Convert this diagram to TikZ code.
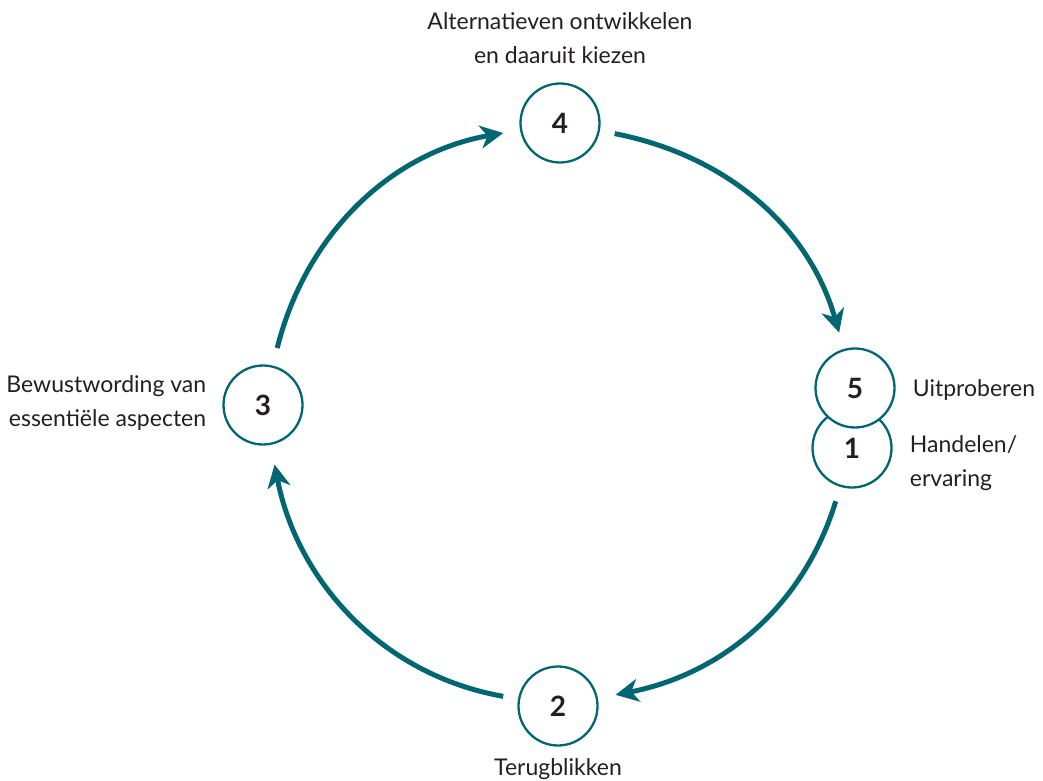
\documentclass[tikz,border=0pt]{standalone}
\usepackage{fontspec}
\setmainfont{Lato}
\usepackage{tikz}
\usetikzlibrary{arrows.meta, positioning}
\definecolor{cyclecol}{RGB}{0,103,114}
\definecolor{numcol}{RGB}{35,31,32}

\begin{document}
\begin{tikzpicture}[x=1pt, y=1pt]

\tikzset{phase/.style = {shape=circle, draw=cyclecol, line width=2.3pt, fill=white,
  minimum size=79pt, inner sep=0pt, font=\fontsize{28}{32}\selectfont\bfseries, text=numcol}}
\tikzset{lbl/.style = {font=\fontsize{23}{34}\selectfont, text=numcol, inner sep=0pt}}
\tikzset{flow/.style = {draw=cyclecol, line width=5pt, -{Stealth[length=23pt, width=23pt, inset=7pt]}}}

\useasboundingbox (0,0) rectangle (1043,780);

% phases
\node[phase] (n4) at (560,657) {4};
\node[phase] (n1) at (852,332) {1};
\node[phase] (n5) at (855,392) {5};
\node[phase] (n2) at (558,74) {2};
\node[phase] (n3) at (263,375) {3};

% labels
\node[lbl, align=center, above=18pt of n4] (t4) {Alternatieven ontwikkelen\\en daaruit kiezen};
\node[lbl, anchor=base west] (t5) at ([xshift=17pt, yshift=-8pt]n5.east) {Uitproberen};
\node[lbl, align=left, anchor=base west] (t1) at ([xshift=17pt, yshift=-38pt]n1.east) {Handelen/\\ervaring};
\node[lbl, align=right, anchor=base east] (t3) at ([xshift=-16pt, yshift=-21pt]n3.west) {Bewustwording van\\essentiële aspecten};
\node[lbl, anchor=base] (t2) at ([yshift=-29pt]n2.south) {Terugblikken};

% edges
\path (n4) edge[flow, out=-11, in=106, shorten <=15pt, shorten >=17pt] (n5);
\path (n1) edge[flow, out=-107, in=11, shorten <=15pt, shorten >=18pt] (n2);
\path (n2) edge[flow, out=170, in=-79, shorten <=15pt, shorten >=20pt] (n3);
\path (n3) edge[flow, out=76, in=190, shorten <=18pt, shorten >=17pt] (n4);

\end{tikzpicture}
\end{document}
